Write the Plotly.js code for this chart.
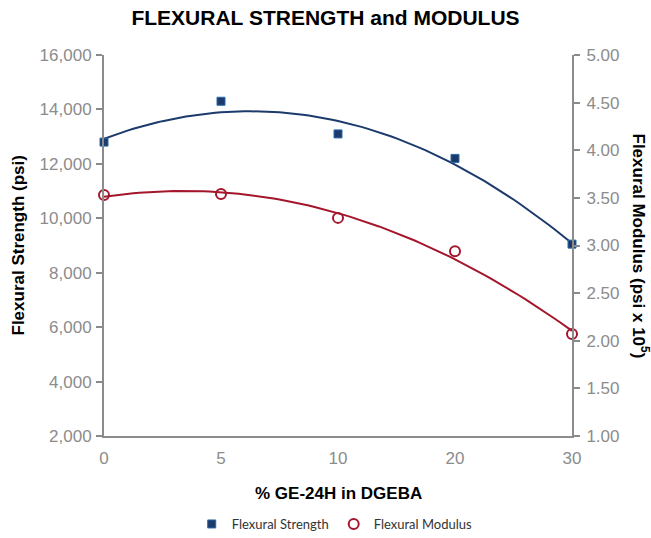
<!DOCTYPE html>
<html>
<head>
<meta charset="utf-8">
<script src="https://cdn.plot.ly/plotly-3.0.1.min.js"></script>
<style>html,body{margin:0;padding:0;background:#fff;}#chart{width:651px;height:538px;}</style>
</head>
<body>
<div id="chart"></div>
<script>
var categories = ['0', '5', '10', '20', '30'];
var strength = [12800, 14300, 13100, 12200, 9050];
var modulus = [3.53, 3.54, 3.29, 2.94, 2.07];
var leftTicks = [2000, 4000, 6000, 8000, 10000, 12000, 14000, 16000];
var rightTicks = [1.0, 1.5, 2.0, 2.5, 3.0, 3.5, 4.0, 4.5, 5.0];

var idx = categories.map(function (_, i) { return i; });

// Quadratic least-squares trendline (as in the original spreadsheet chart)
function quadFit(xs, ys) {
  var n = xs.length, S = [0, 0, 0, 0, 0], T = [0, 0, 0];
  for (var i = 0; i < n; i++) {
    var x = xs[i], y = ys[i];
    for (var k = 0; k < 5; k++) S[k] += Math.pow(x, k);
    for (var k2 = 0; k2 < 3; k2++) T[k2] += Math.pow(x, k2) * y;
  }
  var A = [[S[0], S[1], S[2], T[0]], [S[1], S[2], S[3], T[1]], [S[2], S[3], S[4], T[2]]];
  for (var c = 0; c < 3; c++) {
    for (var r = c + 1; r < 3; r++) {
      var f = A[r][c] / A[c][c];
      for (var j = c; j < 4; j++) A[r][j] -= f * A[c][j];
    }
  }
  var coef = [0, 0, 0];
  for (var r2 = 2; r2 >= 0; r2--) {
    var s = A[r2][3];
    for (var j2 = r2 + 1; j2 < 3; j2++) s -= A[r2][j2] * coef[j2];
    coef[r2] = s / A[r2][r2];
  }
  return coef;
}
function trend(ys) {
  var c = quadFit(idx, ys), xs = [], yv = [];
  for (var i = 0; i <= 80; i++) {
    var x = (idx.length - 1) * i / 80;
    xs.push(x); yv.push(c[0] + c[1] * x + c[2] * x * x);
  }
  return {x: xs, y: yv};
}
var tS = trend(strength), tM = trend(modulus);

var blue = '#1c3a6b', red = '#a3162b', gray = '#8c8c8c', tickGray = '#8a8a8a';
var tickFont = {family: 'Liberation Sans, Arial, sans-serif', size: 17, color: '#8c8c8c'};
var axTitleFont = {family: 'Liberation Sans, Arial, sans-serif', size: 17, color: '#000'};

var traces = [
  {x: tS.x, y: tS.y, mode: 'lines', line: {color: blue, width: 2}, showlegend: false, hoverinfo: 'skip', cliponaxis: false},
  {x: tM.x, y: tM.y, yaxis: 'y2', mode: 'lines', line: {color: red, width: 2}, showlegend: false, hoverinfo: 'skip', cliponaxis: false},
  {x: idx, y: strength, name: 'Flexural Strength', mode: 'markers', cliponaxis: false,
   marker: {symbol: 'square', size: 8, color: blue, line: {color: '#2a6aa8', width: 1}}},
  {x: idx, y: modulus, yaxis: 'y2', name: 'Flexural Modulus', mode: 'markers', cliponaxis: false,
   marker: {symbol: 'circle-open', size: 10, color: red, line: {color: red, width: 2}}}
];

var baseX = {range: [0, categories.length - 1], showgrid: false, zeroline: false, fixedrange: true, automargin: false};
var layout = {
  width: 651, height: 538,
  margin: {l: 104, r: 79, t: 55, b: 102, autoexpand: false},
  paper_bgcolor: '#fff', plot_bgcolor: '#fff',
  font: {family: 'Liberation Sans, Arial, sans-serif'},
  title: {text: '<b>FLEXURAL STRENGTH and MODULUS</b>', x: 0.5, xref: 'container', xanchor: 'center', y: 0.968, yanchor: 'middle',
          font: {family: 'Liberation Sans, Arial, sans-serif', size: 21, color: '#000'}},
  xaxis: Object.assign({}, baseX, {tickvals: idx, ticktext: categories, ticks: '', showline: true,
          linecolor: gray, linewidth: 2, tickfont: tickFont, ticklabelstandoff: 6}),
  xaxis2: Object.assign({}, baseX, {overlaying: 'x', anchor: 'y', tickvals: idx.slice(1, -1), ticks: 'outside',
          ticklen: 6, tickwidth: 2, tickcolor: tickGray, showticklabels: false, showline: false}),
  xaxis3: Object.assign({}, baseX, {overlaying: 'x', anchor: 'y', tickvals: idx.slice(1, -1), ticks: 'inside',
          ticklen: 6, tickwidth: 2, tickcolor: tickGray, showticklabels: false, showline: false}),
  yaxis: {range: [2000, 16000], tickvals: leftTicks, tickformat: ',d', ticks: 'outside', ticklen: 6, tickwidth: 2,
          tickcolor: tickGray, showline: true, linecolor: gray, linewidth: 2, showgrid: false, zeroline: false,
          tickfont: tickFont, ticklabelstandoff: 1, automargin: false},
  yaxis2: {overlaying: 'y', side: 'right', anchor: 'x', range: [1, 5], tickvals: rightTicks, tickformat: '.2f',
          ticks: 'outside', ticklen: 6, tickwidth: 2, tickcolor: tickGray, showline: true, linecolor: gray,
          linewidth: 2, showgrid: false, zeroline: false, tickfont: tickFont, ticklabelstandoff: 3, automargin: false},
  yaxis3: {overlaying: 'y', side: 'left', anchor: 'x', range: [2000, 16000], tickvals: leftTicks, ticks: 'inside',
          ticklen: 6, tickwidth: 2, tickcolor: tickGray, showticklabels: false, showline: false, showgrid: false, zeroline: false},
  yaxis4: {overlaying: 'y', side: 'right', anchor: 'x', range: [1, 5], tickvals: rightTicks, ticks: 'inside',
          ticklen: 6, tickwidth: 2, tickcolor: tickGray, showticklabels: false, showline: false, showgrid: false, zeroline: false},
  legend: {orientation: 'h', x: 0.493, xanchor: 'center', yref: 'container', y: 0.026, yanchor: 'middle',
           font: {family: 'Lato, Open Sans, sans-serif', size: 13, color: '#333'}, itemwidth: 30, tracegroupgap: 0},
  annotations: [
    {text: '<b>Flexural Modulus (psi x 10<sup>5</sup>)</b>', textangle: 90, showarrow: false,
     xref: 'paper', yref: 'paper', x: (641 - 104) / 468, y: 0.5, xanchor: 'center', yanchor: 'middle', font: axTitleFont},
    {text: '<b>Flexural Strength (psi)</b>', textangle: -90, showarrow: false,
     xref: 'paper', yref: 'paper', x: (18 - 104) / 468, y: 0.5, xanchor: 'center', yanchor: 'middle', font: axTitleFont},
    {text: '<b>% GE-24H in DGEBA</b>', showarrow: false,
     xref: 'paper', yref: 'paper', x: 0.5, y: (436 - 493) / 381, xanchor: 'center', yanchor: 'middle', font: axTitleFont}
  ]
};

Plotly.newPlot('chart', traces, layout, {displayModeBar: false, staticPlot: true});
</script>
</body>
</html>
